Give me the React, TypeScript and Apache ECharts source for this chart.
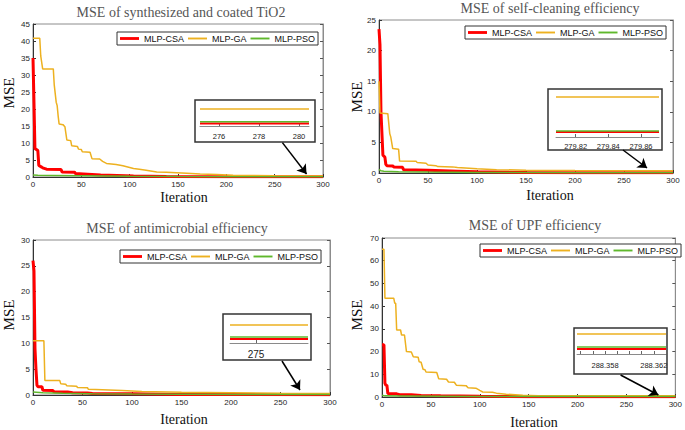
import React, { useEffect, useRef } from 'react';
import * as echarts from 'echarts';

// ---------- data ----------
const titles = [
  'MSE of synthesized and coated TiO2',
  'MSE of self-cleaning efficiency',
  'MSE of antimicrobial efficiency',
  'MSE of UPF efficiency',
];
const seriesNames = ['MLP-CSA', 'MLP-GA', 'MLP-PSO'];
const xLabel = 'Iteration';
const yLabel = 'MSE';
const xMax = 300;
const xInterval = 50;
const yMax = [45, 25, 30, 70];
const yInterval = [5, 5, 5, 10];

// Panel 1: synthesized and coated TiO2
const csa1 = [[0,35],[1,22],[2,8.4],[5,7.8],[6,3.4],[9,2.9],[10,2.7],[14,2.3],[29,2.2],[30,1.5],[43,1.4],[44,1.0],[52,0.9],[70,0.6],[104,0.3],[138,0.15],[200,0.07],[300,0.045]];
const ga1 = [[0,40.8],[7,40.8],[8,35.6],[10,31.8],[21,31.8],[22,27],[24,22],[25,21],[26,18],[27,15.6],[31,15.4],[33,14.8],[35,10.9],[39,10.7],[40,9.2],[46,9.0],[47,8.2],[50,8.1],[51,7.4],[59,7.3],[61,5.4],[69,5.3],[72,4.6],[76,4.0],[86,3.7],[93,3.3],[100,2.8],[104,2.5],[110,2.3],[117,2.0],[128,1.5],[138,1.4],[159,1.1],[173,0.9],[190,0.7],[207,0.5],[250,0.38],[300,0.30]];
const pso1 = [[0,0.6],[5,0.5],[20,0.45],[50,0.35],[100,0.2],[150,0.12],[200,0.09],[300,0.075]];

// Panel 2: self-cleaning efficiency
const csa2 = [[0,23.5],[1,21],[2,10],[4,2.9],[6,2.6],[7,1.4],[8,1.2],[14,1.15],[15,1.0],[24,0.95],[25,0.55],[50,0.45],[80,0.3],[100,0.2],[150,0.1],[200,0.06],[300,0.044]];
const ga2 = [[0,15],[1,9.8],[9,9.7],[11,6.4],[12,5.9],[14,4.0],[20,3.9],[21,1.95],[38,1.9],[39,1.7],[48,1.6],[50,1.3],[58,1.2],[60,1.05],[75,1.0],[80,0.9],[100,0.7],[120,0.55],[150,0.45],[200,0.4],[300,0.35]];
const pso2 = [[0,0.6],[2,0.35],[5,0.3],[20,0.2],[50,0.15],[100,0.1],[200,0.06],[300,0.052]];

// Panel 3: antimicrobial efficiency
const csa3 = [[0,26],[1,24],[2,9],[3,5],[4,1.9],[5,1.6],[9,1.6],[10,0.9],[20,0.85],[21,0.65],[35,0.6],[40,0.45],[55,0.4],[60,0.3],[100,0.25],[150,0.1],[200,0.08],[300,0.067]];
const ga3 = [[0,10.5],[11,10.5],[12,2.8],[27,2.8],[28,2.2],[33,2.1],[34,1.8],[44,1.7],[45,1.45],[55,1.4],[56,1.1],[70,1.0],[90,0.85],[110,0.7],[150,0.55],[200,0.45],[250,0.35],[300,0.3]];
const pso3 = [[0,0.6],[10,0.45],[30,0.35],[60,0.25],[100,0.18],[200,0.12],[300,0.1]];

// Panel 4: UPF efficiency
const csa4 = [[0,23],[2,23],[3,6],[4,5.2],[5,5.2],[6,1.5],[15,1.4],[18,1.0],[30,0.95],[40,0.7],[60,0.5],[100,0.3],[150,0.15],[200,0.13],[300,0.125]];
const ga4 = [[0,65],[2,65],[3,43.5],[12,43.5],[13,41.3],[14,41.3],[15,29.5],[19,29.5],[20,27.3],[23,27.3],[25,20],[30,19.8],[32,17.7],[37,17.5],[38,15.5],[40,15.3],[42,12.2],[44,12.0],[45,11],[56,10.8],[58,8],[66,7.8],[68,6.6],[74,6.5],[76,5.2],[86,5.0],[88,4.1],[96,3.9],[100,2.9],[103,2.2],[113,2.1],[117,1.7],[127,1.2],[144,0.8],[160,0.6],[200,0.52],[300,0.5]];
const pso4 = [[0,0.8],[3,0.5],[20,0.45],[60,0.35],[100,0.25],[200,0.19],[300,0.175]];

const panelData = [
  [csa1, ga1, pso1],
  [csa2, ga2, pso2],
  [csa3, ga3, pso3],
  [csa4, ga4, pso4],
];

// Zoomed insets
const insetRange = [[275.05, 280.5], [279.808, 279.871], [274.6, 275.8], [288.3557, 288.363]];
const insetYMax = [0.39, 0.385, 0.383, 0.6];
const insetTicks = [[276, 278, 280], [279.82, 279.84, 279.86], [275], [288.356, 288.357, 288.358, 288.359, 288.36, 288.361, 288.362]];
const insetLabels = [[276, 278, 280], [279.82, 279.84, 279.86], [275], [288.358, 288.362]];
const insetDecimals = [0, 2, 0, 3];

// Arrow annotations (data coordinates: from -> to)
const arrows = [
  [[258, 10.1], [283, 0.9]],
  [[249, 3.76], [273.5, 0.82]],
  [[251.5, 6.58], [269.7, 0.97]],
  [[244, 9.7], [282.7, 0.88]],
];

// ---------- layout / style ----------
const mainGrids = [
  { left: 33, top: 24, width: 290, height: 153 },
  { left: 379, top: 20, width: 294, height: 153 },
  { left: 33, top: 240, width: 297, height: 155 },
  { left: 382, top: 238, width: 295, height: 159 },
];
const insetGrids = [
  { left: 200, top: 104, width: 109, height: 22 },
  { left: 556, top: 93, width: 103, height: 44 },
  { left: 230, top: 320, width: 78, height: 23 },
  { left: 577, top: 330, width: 89, height: 24 },
];
const insetBoxes = [
  { x: 195, y: 100, width: 120, height: 42 },
  { x: 548, y: 89, width: 114, height: 61 },
  { x: 223, y: 314, width: 88, height: 46 },
  { x: 574, y: 328, width: 93, height: 46 },
];
const insetLabelSize = [7.5, 7.5, 10, 7.5];
const insetLabelMargin = [6, 5, 6, 7];
const legendPos = [
  { left: 117, top: 32 },
  { left: 465, top: 26 },
  { left: 120, top: 250 },
  { left: 480, top: 244 },
];
const titlePos = [[181, 12.7], [550, 8.5], [177, 228], [535, 225]];
const xNamePos = [[184, 197], [550, 195], [184, 419], [534, 422]];
const yNamePos = [[9, 93], [357, 97], [9, 315], [357, 315]];

const colors = ['#ff0000', '#edb120', '#5fb82c'];
const widths = [3, 1.5, 1.5];
const insetWidths = [2, 1.5, 1.5];
const legendIcons = ['path://M0,0H20V3H0Z', 'path://M0,0H20V2H0Z', 'path://M0,0H20V2H0Z'];
const sans = 'Liberation Sans, Arial, sans-serif';
const serif = 'Liberation Serif, Times New Roman, serif';
const axisDark = '#333333';

function buildOption() {
  const grid: any[] = [];
  const xAxis: any[] = [];
  const yAxis: any[] = [];
  const series: any[] = [];
  const legend: any[] = [];
  const graphic: any[] = [];

  mainGrids.forEach((g) => grid.push({ ...g, show: true, borderColor: '#8c8c8c', borderWidth: 1, containLabel: false }));
  insetGrids.forEach((g) => grid.push({ ...g, show: false, containLabel: false }));

  // main x axes 0..3
  for (let p = 0; p < 4; p++) {
    xAxis.push({
      type: 'value', gridIndex: p, min: 0, max: xMax, interval: xInterval,
      axisLine: { show: true, onZero: false, lineStyle: { color: axisDark, width: 1 } },
      axisTick: { show: true, inside: true, length: 3, lineStyle: { color: axisDark } },
      axisLabel: { fontSize: 8, margin: 3, color: '#262626', fontFamily: sans },
      splitLine: { show: false },
    });
  }
  // inset x axes 4..7
  for (let p = 0; p < 4; p++) {
    xAxis.push({
      type: 'value', gridIndex: 4 + p, min: insetRange[p][0], max: insetRange[p][1],
      axisLine: { show: true, onZero: false, lineStyle: { color: '#8a8a8a', width: 1 } },
      axisTick: { show: true, inside: true, length: 3, customValues: insetTicks[p], lineStyle: { color: '#666' } },
      axisLabel: {
        fontSize: insetLabelSize[p], margin: insetLabelMargin[p], color: '#222', fontFamily: sans,
        customValues: insetLabels[p],
        formatter: (v: number) => v.toFixed(insetDecimals[p]),
      },
      splitLine: { show: false },
    });
  }
  // main y axes 0..3
  for (let p = 0; p < 4; p++) {
    yAxis.push({
      type: 'value', gridIndex: p, min: 0, max: yMax[p], interval: yInterval[p],
      axisLine: { show: true, onZero: false, lineStyle: { color: axisDark, width: 1 } },
      axisTick: { show: true, inside: true, length: 3, lineStyle: { color: axisDark } },
      axisLabel: { fontSize: 8, margin: 3, color: '#262626', fontFamily: sans },
      splitLine: { show: false },
    });
  }
  // inset y axes 4..7
  for (let p = 0; p < 4; p++) {
    yAxis.push({ type: 'value', gridIndex: 4 + p, min: 0, max: insetYMax[p], show: false, splitLine: { show: false } });
  }
  // right-side y axes 8..11 (ticks only)
  for (let p = 0; p < 4; p++) {
    yAxis.push({
      type: 'value', gridIndex: p, position: 'right', min: 0, max: yMax[p], interval: yInterval[p],
      axisLine: { show: true, onZero: false, lineStyle: { color: '#8c8c8c', width: 1 } },
      axisTick: { show: true, inside: true, length: 3, lineStyle: { color: '#555' } },
      axisLabel: { show: false },
      splitLine: { show: false },
    });
  }

  for (let p = 0; p < 4; p++) {
    panelData[p].forEach((data, s) => {
      const main: any = {
        type: 'line', name: seriesNames[s], xAxisIndex: p, yAxisIndex: p,
        data, symbol: 'none', showSymbol: false,
        lineStyle: { color: colors[s], width: widths[s] },
        itemStyle: { color: colors[s] },
        z: 2 + s, silent: true,
      };
      if (s === 2) {
        main.markLine = {
          silent: true, symbol: ['none', 'arrow'], symbolSize: 9,
          label: { show: false },
          lineStyle: { color: '#000', width: 1.5, type: 'solid' },
          data: [[{ coord: arrows[p][0] }, { coord: arrows[p][1] }]],
        };
      }
      series.push(main);
      const last = data[data.length - 1][1];
      series.push({
        type: 'line', name: seriesNames[s], xAxisIndex: 4 + p, yAxisIndex: 4 + p,
        data: [[insetRange[p][0], last], [insetRange[p][1], last]],
        symbol: 'none', showSymbol: false,
        lineStyle: { color: colors[s], width: insetWidths[s] },
        itemStyle: { color: colors[s] },
        z: 5 + s, silent: true,
      });
    });

    legend.push({
      ...legendPos[p], orient: 'horizontal',
      data: seriesNames.map((name, i) => ({ name, icon: legendIcons[i] })),
      itemWidth: 19, itemHeight: 8, itemGap: 4, padding: [2, 3, 2, 3],
      symbolKeepAspect: true,
      borderColor: '#333', borderWidth: 1, backgroundColor: '#fff',
      textStyle: { fontSize: 9, fontFamily: sans, color: '#111' },
      selectedMode: false,
    });

    graphic.push({
      type: 'rect', shape: insetBoxes[p], z: 1,
      style: { fill: 'rgba(0,0,0,0)', stroke: '#333', lineWidth: 1.5 },
    });
    graphic.push({
      type: 'text', x: titlePos[p][0], y: titlePos[p][1],
      style: { text: titles[p], align: 'center', verticalAlign: 'middle', fontSize: 14, fontFamily: serif, fill: '#555' },
    });
    graphic.push({
      type: 'text', x: xNamePos[p][0], y: xNamePos[p][1],
      style: { text: xLabel, align: 'center', verticalAlign: 'middle', fontSize: 14, fontFamily: serif, fill: '#111' },
    });
    graphic.push({
      type: 'text', x: yNamePos[p][0], y: yNamePos[p][1], rotation: Math.PI / 2,
      style: { text: yLabel, align: 'center', verticalAlign: 'middle', fontSize: 15, fontFamily: serif, fill: '#111' },
    });
  }

  return {
    animation: false,
    backgroundColor: '#ffffff',
    grid, xAxis, yAxis, series, legend, graphic,
  };
}

export default function App() {
  const ref = useRef<HTMLDivElement>(null);
  useEffect(() => {
    document.body.style.margin = '0';
    const chart = echarts.init(ref.current!, undefined, { renderer: 'svg' });
    chart.setOption(buildOption() as any);
    return () => chart.dispose();
  }, []);
  return (
    <div
      ref={ref}
      style={{ position: 'absolute', left: 0, top: 0, width: 685, height: 430, background: '#fff' }}
    />
  );
}
